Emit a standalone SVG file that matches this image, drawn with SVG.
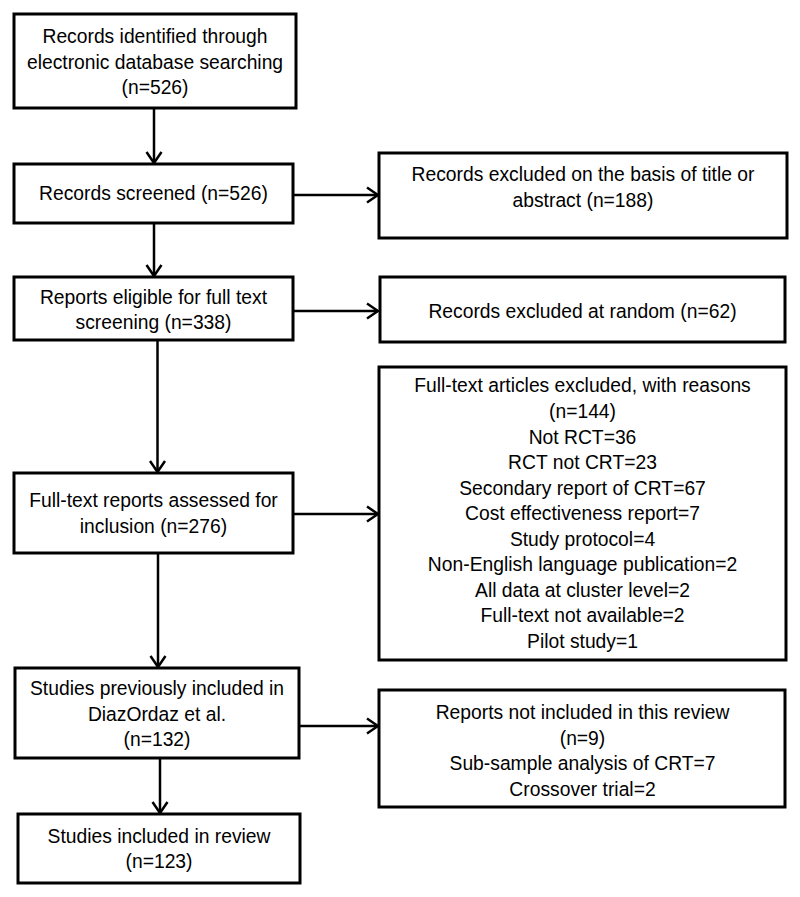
<svg xmlns="http://www.w3.org/2000/svg" width="800" height="897" viewBox="0 0 800 897">
<style>
.box{fill:#fff;stroke:#000;stroke-width:3}
.t{font-family:"Liberation Sans",Arial,sans-serif;font-size:19.3px;fill:#000;text-anchor:middle}
.c{stroke:#000;stroke-width:2.5;fill:none;marker-end:url(#ah)}
</style>
<defs>
<marker id="ah" markerUnits="userSpaceOnUse" viewBox="0 0 13 18" refX="12" refY="9" markerWidth="13" markerHeight="18" orient="auto">
<path d="M1,1.5 L12,9 L1,16.5" fill="none" stroke="#000" stroke-width="2.5"/>
</marker>
</defs>
<rect width="800" height="897" fill="#fff"/>
<g id="connectors">
<line class="c" x1="154" y1="108" x2="154" y2="163"/>
<line class="c" x1="154" y1="224" x2="154" y2="276"/>
<line class="c" x1="157.5" y1="340" x2="157.5" y2="472"/>
<line class="c" x1="158" y1="553" x2="158" y2="667"/>
<line class="c" x1="160" y1="758" x2="160" y2="813"/>
<line class="c" x1="294" y1="195" x2="378" y2="195"/>
<line class="c" x1="293" y1="311" x2="378" y2="311"/>
<line class="c" x1="293" y1="514" x2="378" y2="514"/>
<line class="c" x1="299" y1="726" x2="378" y2="726"/>
</g>
<g id="n1">
<rect class="box" x="14" y="14" width="282" height="94"/>
<text class="t" x="155" y="43">Records identified through</text>
<text class="t" x="155" y="68.5">electronic database searching</text>
<text class="t" x="155" y="94">(n=526)</text>
</g>
<g id="n2">
<rect class="box" x="14" y="164" width="279" height="59"/>
<text class="t" x="153.5" y="200">Records screened (n=526)</text>
</g>
<g id="n3">
<rect class="box" x="14" y="277" width="279" height="63"/>
<text class="t" x="153.5" y="303.5">Reports eligible for full text</text>
<text class="t" x="153.5" y="329">screening (n=338)</text>
</g>
<g id="n4">
<rect class="box" x="14" y="473" width="279" height="80"/>
<text class="t" x="153.5" y="507">Full-text reports assessed for</text>
<text class="t" x="153.5" y="533">inclusion (n=276)</text>
</g>
<g id="n5">
<rect class="box" x="15" y="668" width="284" height="90"/>
<text class="t" x="157" y="695">Studies previously included in</text>
<text class="t" x="157" y="720.5">DiazOrdaz et al.</text>
<text class="t" x="157" y="746">(n=132)</text>
</g>
<g id="n6">
<rect class="box" x="18" y="814" width="282" height="69"/>
<text class="t" x="159" y="842.5">Studies included in review</text>
<text class="t" x="159" y="868">(n=123)</text>
</g>
<g id="r1">
<rect class="box" x="379" y="153" width="408" height="85"/>
<text class="t" x="583" y="180.5">Records excluded on the basis of title or</text>
<text class="t" x="583" y="207">abstract (n=188)</text>
</g>
<g id="r2">
<rect class="box" x="380" y="277" width="405" height="65"/>
<text class="t" x="582.5" y="318">Records excluded at random (n=62)</text>
</g>
<g id="r3">
<rect class="box" x="379" y="367" width="407" height="293"/>
<text class="t" x="582.5" y="392">Full-text articles excluded, with reasons</text>
<text class="t" x="582.5" y="418">(n=144)</text>
<text class="t" x="582.5" y="443.5">Not RCT=36</text>
<text class="t" x="582.5" y="469">RCT not CRT=23</text>
<text class="t" x="582.5" y="494.5">Secondary report of CRT=67</text>
<text class="t" x="582.5" y="520">Cost effectiveness report=7</text>
<text class="t" x="582.5" y="545.5">Study protocol=4</text>
<text class="t" x="582.5" y="571">Non-English language publication=2</text>
<text class="t" x="582.5" y="596.5">All data at cluster level=2</text>
<text class="t" x="582.5" y="622">Full-text not available=2</text>
<text class="t" x="582.5" y="647.5">Pilot study=1</text>
</g>
<g id="r4">
<rect class="box" x="379" y="690" width="406" height="117"/>
<text class="t" x="582.5" y="719">Reports not included in this review</text>
<text class="t" x="582.5" y="744.5">(n=9)</text>
<text class="t" x="582.5" y="770">Sub-sample analysis of CRT=7</text>
<text class="t" x="582.5" y="795.5">Crossover trial=2</text>
</g>
</svg>
